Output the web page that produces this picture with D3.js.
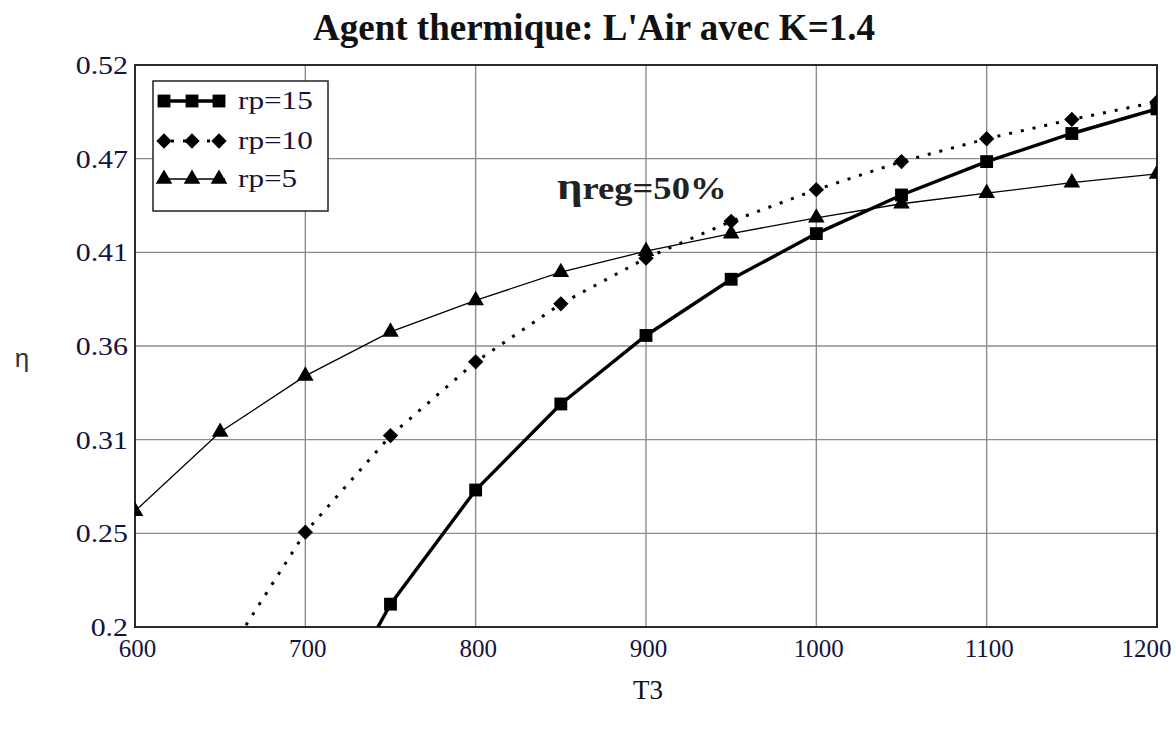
<!DOCTYPE html>
<html><head><meta charset="utf-8">
<script src="https://cdn.jsdelivr.net/npm/d3@7"></script>
<style>html,body{margin:0;padding:0;background:#fff;}svg{display:block;}</style>
</head><body>
<svg id="chart" width="1176" height="735"></svg>
<script>
// ---- data ----
const title = "Agent thermique: L'Air avec K=1.4";
const xLabel = "T3";
const yLabel = "η";
const annotation = ["η", "reg=50%"];
const xTicks = [600, 700, 800, 900, 1000, 1100, 1200];
const yTicks = [0.2, 0.25333, 0.30667, 0.36, 0.41333, 0.46667, 0.52];
const yTickLabels = ["0.2", "0.25", "0.31", "0.36", "0.41", "0.47", "0.52"];
const seriesNames = ["rp=15", "rp=10", "rp=5"];
const t3_rp15 = [700, 750, 800, 850, 900, 950, 1000, 1050, 1100, 1150, 1200];
const eta_rp15 = [0.125, 0.213, 0.278, 0.327, 0.366, 0.398, 0.424, 0.446, 0.465, 0.481, 0.495];
const t3_rp10 = [650, 700, 750, 800, 850, 900, 950, 1000, 1050, 1100, 1150, 1200];
const eta_rp10 = [0.178, 0.254, 0.309, 0.351, 0.384, 0.410, 0.431, 0.449, 0.465, 0.478, 0.489, 0.499];
const t3_rp5 = [600, 650, 700, 750, 800, 850, 900, 950, 1000, 1050, 1100, 1150, 1200];
const eta_rp5 = [0.266, 0.311, 0.343, 0.368, 0.386, 0.402, 0.414, 0.424, 0.433, 0.441, 0.447, 0.453, 0.458];

// ---- layout ----
const svg = d3.select("#chart");
const L = 135, R = 1157, T = 65, B = 627;
const x = d3.scaleLinear().domain([600, 1200]).range([L, R]);
const y = d3.scaleLinear().domain([0.2, 0.52]).range([B, T]);
const serif = "'Liberation Serif','Times New Roman',serif";
const txtCol = "#14143c";

function stretch(sel, sx) {
  sel.each(function () {
    const t = d3.select(this);
    const px = +t.attr("x") || 0, py = +t.attr("y") || 0;
    t.attr("transform", `translate(${px},${py}) scale(${sx},1)`).attr("x", 0).attr("y", 0);
  });
}

svg.append("defs").append("clipPath").attr("id", "plotclip")
  .append("rect").attr("x", L).attr("y", T).attr("width", R - L).attr("height", B - T);

// grid
const grid = svg.append("g");
grid.selectAll("line.vg").data(xTicks.slice(1, -1)).join("line")
  .attr("x1", d => x(d)).attr("x2", d => x(d)).attr("y1", T).attr("y2", B)
  .attr("stroke", "#8c8c8c").attr("stroke-width", 1.4);
grid.selectAll("line.hg").data(yTicks.slice(1, -1)).join("line")
  .attr("y1", d => y(d)).attr("y2", d => y(d)).attr("x1", L).attr("x2", R)
  .attr("stroke", "#8c8c8c").attr("stroke-width", 1.4);

// axes (labels via d3 axis)
const xAxis = d3.axisBottom(x).tickValues(xTicks).tickFormat(d3.format("d")).tickSize(0).tickPadding(0);
const gx = svg.append("g").attr("transform", `translate(0,${B})`).call(xAxis);
gx.select(".domain").remove();
gx.selectAll(".tick text").attr("font-family", serif).attr("font-size", 25).attr("fill", txtCol)
  .attr("dy", 0).attr("y", 30)
  .attr("x", (d, i, n) => i === n.length - 1 ? -11 : 2);

const yAxis = d3.axisLeft(y).tickValues(yTicks).tickFormat((d, i) => yTickLabels[i]).tickSize(0).tickPadding(0);
const gy = svg.append("g").attr("transform", `translate(${L},0)`).call(yAxis);
gy.select(".domain").remove();
gy.selectAll(".tick text").attr("font-family", serif).attr("font-size", 26).attr("fill", txtCol)
  .attr("dy", "0.33em").attr("x", 0).attr("y", 0)
  .attr("transform", "translate(-7,0) scale(1.15,1)");

// frame
svg.append("rect").attr("x", L).attr("y", T).attr("width", R - L).attr("height", B - T)
  .attr("fill", "none").attr("stroke", "#2a2a2a").attr("stroke-width", 2);

// series
const series = [
  {name: seriesNames[0], xs: t3_rp15, ys: eta_rp15, width: 3.4, dash: null, marker: d3.symbolSquare, msize: 165},
  {name: seriesNames[1], xs: t3_rp10, ys: eta_rp10, width: 3, dash: "3,9", marker: d3.symbolDiamond2, msize: 150},
  {name: seriesNames[2], xs: t3_rp5, ys: eta_rp5, width: 1.3, dash: null, marker: d3.symbolTriangle, msize: 120}
];
const plot = svg.append("g").attr("clip-path", "url(#plotclip)");
const line = d3.line().x(d => x(d[0])).y(d => y(d[1]));
series.forEach(s => {
  const pts = s.xs.map((v, i) => [v, s.ys[i]]);
  plot.append("path").datum(pts).attr("d", line).attr("fill", "none")
    .attr("stroke", "#000").attr("stroke-width", s.width)
    .attr("stroke-dasharray", s.dash);
  plot.selectAll(null).data(pts).join("path")
    .attr("transform", d => `translate(${x(d[0])},${y(d[1])})`)
    .attr("d", d3.symbol().type(s.marker).size(s.msize)).attr("fill", "#000");
});

// legend
const lg = svg.append("g");
lg.append("rect").attr("x", 153).attr("y", 81).attr("width", 175).attr("height", 130)
  .attr("fill", "#fff").attr("stroke", "#222").attr("stroke-width", 1.5);
const rowsY = [101, 141, 179];
series.forEach((s, i) => {
  const yy = rowsY[i];
  lg.append("line").attr("x1", 159).attr("x2", 225).attr("y1", yy).attr("y2", yy)
    .attr("stroke", "#000").attr("stroke-width", s.width).attr("stroke-dasharray", s.dash);
  [164, 192, 219].forEach(mx => {
    lg.append("path").attr("transform", `translate(${mx},${yy})`)
      .attr("d", d3.symbol().type(s.marker).size(s.msize)).attr("fill", "#000");
  });
  lg.append("text").attr("x", 238).attr("y", yy + 8)
    .attr("font-family", serif).attr("font-size", 26).attr("fill", txtCol).text(s.name)
    .call(stretch, 1.2);
});

// annotation
const an = svg.append("text").attr("x", 557).attr("y", 199)
  .attr("font-family", serif).attr("font-weight", "bold").attr("fill", "#222");
an.append("tspan").attr("font-size", 38).text(annotation[0]);
an.append("tspan").attr("font-size", 31).text(annotation[1]);
an.call(stretch, 1.18);

// title and axis titles
svg.append("text").attr("x", 594).attr("y", 40).attr("text-anchor", "middle")
  .attr("font-family", serif).attr("font-weight", "bold").attr("font-size", 37).attr("fill", "#111")
  .text(title);
svg.append("text").attr("x", 648).attr("y", 699).attr("text-anchor", "middle")
  .attr("font-family", serif).attr("font-size", 27).attr("fill", "#111").text(xLabel);
svg.append("text").attr("x", 22).attr("y", 367).attr("text-anchor", "middle")
  .attr("font-family", "'Liberation Sans',Arial,sans-serif").attr("font-size", 26).attr("fill", "#333").text(yLabel);
</script>
</body></html>
